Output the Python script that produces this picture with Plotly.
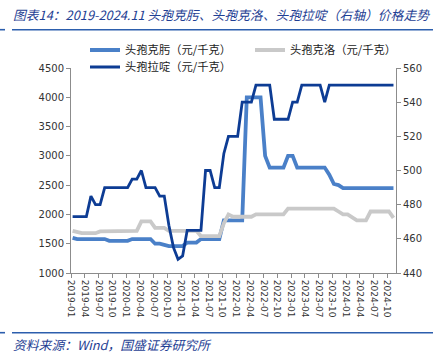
import plotly.graph_objects as go

# ---- data (monthly, 2019-01 .. 2024-11) ----
month_index = list(range(71))

cefixime = [1600,
            1580, 1580, 1580, 1580, 1580, 1580, 1580,
            1550, 1550, 1550, 1550, 1550,
            1580, 1580, 1580, 1580, 1580,
            1500, 1500,
            1480,
            1460, 1460, 1460, 1460,
            1520, 1520, 1520,
            1580, 1580, 1580, 1580, 1580,
            1900, 1900, 1900, 1900, 1900,
            4000, 4000, 4000, 4000,
            3000,
            2800, 2800, 2800, 2800,
            3000, 3000,
            2800, 2800, 2800, 2800, 2800, 2800, 2800,
            2680, 2520, 2500,
            2450, 2450, 2450, 2450, 2450, 2450, 2450, 2450, 2450, 2450, 2450, 2450]

cefaclor = [1720, 1700,
            1680, 1680, 1680, 1680,
            1710, 1710, 1710, 1710, 1710, 1710,
            1720, 1720, 1720,
            1880, 1880, 1880,
            1770, 1770, 1770,
            1720, 1720, 1720, 1720, 1720, 1720, 1720,
            1630, 1630, 1630, 1630, 1630,
            1850, 2000,
            1960, 1960, 1960, 1960, 1960,
            2000, 2000, 2000, 2000, 2000, 2000, 2000,
            2100, 2100, 2100, 2100, 2100, 2100, 2100, 2100, 2100, 2100, 2100,
            2050, 2000, 2000, 1950,
            1900, 1900, 1900,
            2050, 2050, 2050, 2050, 2050,
            1940]

cephradine = [473, 473, 473, 473,
              485,
              480, 480,
              490, 490, 490, 490, 490, 490,
              495, 495,
              500,
              490, 490, 490,
              485, 485,
              468, 455, 448, 450,
              465, 465, 465, 465,
              500, 500,
              490, 490,
              510,
              520, 520, 520,
              540, 540, 540,
              550, 550, 550, 550,
              530, 530, 530, 530,
              540, 540,
              550, 550, 550, 550, 550,
              540,
              550, 550, 550, 550, 550, 550, 550, 550, 550, 550, 550, 550, 550, 550, 550]

tick_labels = ["2019-01", "2019-04", "2019-07", "2019-10",
               "2020-01", "2020-04", "2020-07", "2020-10",
               "2021-01", "2021-04", "2021-07", "2021-10",
               "2022-01", "2022-04", "2022-07", "2022-10",
               "2023-01", "2023-04", "2023-07", "2023-10",
               "2024-01", "2024-04", "2024-07", "2024-10"]
tick_pos = [3 * i - 0.35 for i in range(len(tick_labels))]

names = ["头孢克肟（元/千克）", "头孢克洛（元/千克）", "头孢拉啶（元/千克）"]
colors = ["#4A80C8", "#C9C9C9", "#0D3C94"]

CJK = "Noto Sans CJK SC"
NUM = "DejaVu Sans"

fig = go.Figure()
fig.add_trace(go.Scatter(x=month_index, y=cefixime, name=names[0], mode="lines",
                         line=dict(color=colors[0], width=3.8), legend="legend"))
fig.add_trace(go.Scatter(x=month_index, y=cefaclor, name=names[1], mode="lines",
                         line=dict(color=colors[1], width=3.8), legend="legend2"))
fig.add_trace(go.Scatter(x=month_index, y=cephradine, name=names[2], mode="lines",
                         line=dict(color=colors[2], width=2.8), yaxis="y2", legend="legend3"))

L, R, T, B = 71, 44, 68, 84
W, H = 440, 357
pw, ph = W - L - R, H - T - B


def px_x(p):
    return (p - L) / pw


def px_y(p):
    return (H - B - p) / ph


axis_common = dict(showline=True, linecolor="#8C8C8C", linewidth=1, ticks="outside",
                   ticklen=4, tickcolor="#8C8C8C", showgrid=False, zeroline=False,
                   tickfont=dict(family=NUM, size=10, color="#333333"))

legend_common = dict(orientation="h", xanchor="left", yanchor="middle",
                     bgcolor="rgba(0,0,0,0)", borderwidth=0, itemwidth=30,
                     font=dict(family=CJK, size=11.3, color="#222222"))

fig.update_layout(
    width=W, height=H,
    margin=dict(l=L, r=R, t=T, b=B, autoexpand=False),
    paper_bgcolor="white", plot_bgcolor="white",
    xaxis=dict(axis_common, range=[-0.35, 70.55], tickmode="array", tickvals=tick_pos,
               ticktext=tick_labels, tickangle=90,
               tickfont=dict(family=NUM, size=9, color="#333333")),
    yaxis=dict(axis_common, range=[1000, 4500], dtick=500, tick0=1000),
    yaxis2=dict(axis_common, range=[440, 560], dtick=20, tick0=440, overlaying="y", side="right"),
    legend=dict(legend_common, x=px_x(85), y=px_y(50)),
    legend2=dict(legend_common, x=px_x(250), y=px_y(50)),
    legend3=dict(legend_common, x=px_x(85), y=px_y(67)),
    showlegend=True,
)

title_text = "<i>图表14：2019-2024.11 头孢克肟、头孢克洛、头孢拉啶（右轴）价格走势</i>"
source_text = "<i>资料来源：Wind，国盛证券研究所</i>"

fig.add_annotation(text=title_text, xref="paper", yref="paper", x=px_x(11), y=px_y(14),
                   xanchor="left", yanchor="middle", showarrow=False,
                   font=dict(family=CJK, size=12.8, color="#1F3F94"))
fig.add_annotation(text=source_text, xref="paper", yref="paper", x=px_x(11), y=px_y(344),
                   xanchor="left", yanchor="middle", showarrow=False,
                   font=dict(family=CJK, size=12.8, color="#1F3F94"))

line_col = "#2C5EAD"
for yy in (29.7, 332.7):
    fig.add_shape(type="line", xref="paper", yref="paper", x0=px_x(12), x1=px_x(433),
                  y0=px_y(yy), y1=px_y(yy), line=dict(color=line_col, width=1.6))
    fig.add_shape(type="line", xref="paper", yref="paper", x0=px_x(0), x1=px_x(5),
                  y0=px_y(yy), y1=px_y(yy), line=dict(color=line_col, width=1.6))

fig.write_html("out.html", config={"displayModeBar": False},
               post_script="document.body.style.margin='0';document.body.style.padding='0';")
